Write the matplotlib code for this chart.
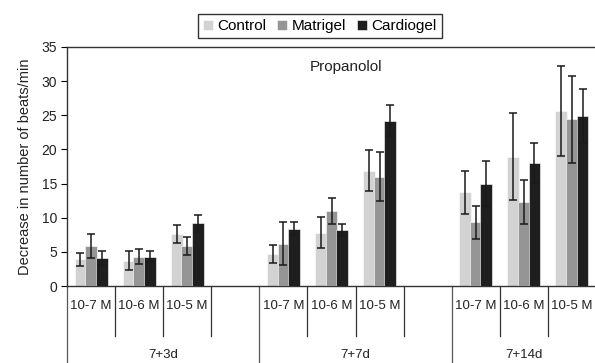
import numpy as np
import matplotlib.pyplot as plt
from matplotlib.transforms import blended_transform_factory

plt.rcParams['font.family'] = ['Liberation Sans', 'DejaVu Sans']

groups = ["7+3d", "7+7d", "7+14d"]
doses = ["10-7 M", "10-6 M", "10-5 M"]
series = ["Control", "Matrigel", "Cardiogel"]
colors = ["#d2d2d2", "#959595", "#1e1e1e"]

control = [3.9, 3.7, 7.6, 4.65, 7.8, 16.9, 13.75, 18.95, 25.6]
control_err = [0.95, 1.4, 1.3, 1.3, 2.3, 2.95, 3.15, 6.35, 6.55]
matrigel = [5.85, 4.3, 5.85, 6.2, 11.0, 16.0, 9.3, 12.3, 24.4]
matrigel_err = [1.7, 1.1, 1.3, 3.1, 1.9, 3.6, 2.35, 3.25, 6.4]
cardiogel = [4.1, 4.3, 9.2, 8.4, 8.2, 24.2, 15.0, 18.05, 24.9]
cardiogel_err = [1.0, 0.8, 1.25, 1.0, 0.9, 2.3, 3.3, 2.9, 4.0]

values = [control, matrigel, cardiogel]
errors = [control_err, matrigel_err, cardiogel_err]

# slot centres: 3 doses per group, one empty slot between groups
slots = np.array([g * 4 + d + 0.5 for g in range(len(groups)) for d in range(len(doses))])

fig = plt.figure(figsize=(5.95, 3.63), dpi=100)
ax = fig.add_axes([67 / 595, 77 / 363, 529 / 595, 239 / 363])

step = 0.22
width = 0.245
for i, (vals, errs) in enumerate(zip(values, errors)):
    x = slots + (i - 1) * step
    ax.bar(x, vals, width=width, color=colors[i], edgecolor='white', linewidth=0.4,
           label=series[i], zorder=2 + i)
    ax.errorbar(x, vals, yerr=errs, fmt='none', ecolor='#1a1a1a', elinewidth=1.1,
                capsize=3, capthick=1.1, zorder=2 + i)

ax.set_xlim(0, 11)
ax.set_ylim(0, 35)
ax.set_yticks(np.arange(0, 36, 5))
ax.tick_params(axis='y', direction='out', length=4, labelsize=10, pad=3, labelcolor='#222222')
ax.set_xticks([])
ax.set_ylabel("Decrease in number of beats/min", fontsize=10.5, labelpad=7, color='#222222')
for s in ['left', 'top', 'bottom']:
    ax.spines[s].set_linewidth(1.0)
    ax.spines[s].set_color('#333333')
ax.spines['right'].set_visible(False)

ax.text(5.05, 32, "Propanolol", fontsize=11, va='center', ha='left', color='#222222')

trans = blended_transform_factory(ax.transData, ax.transAxes)
for x, lab in zip(slots, doses * len(groups)):
    ax.text(x, -0.085, lab, transform=trans, ha='center', va='center', fontsize=9.5,
            color='#222222')

# short dividers between doses, long dividers between groups
for b in [1, 2, 3, 5, 6, 7, 9, 10]:
    ax.plot([b, b], [0, -0.21], transform=trans, color='#333333', lw=0.9, clip_on=False)
for b in [0, 4, 8]:
    ax.plot([b, b], [0, -0.33], transform=trans, color='#555555', lw=0.9, clip_on=False)

for g, lab in enumerate(groups):
    centre = g * 4 + (2 if g < 2 else 1.5)
    ax.text(centre, -0.29, lab, transform=trans, ha='center', va='center', fontsize=9.5,
            color='#222222')

fig.legend(loc='center', bbox_to_anchor=(320 / 595, 1 - 26 / 363), ncol=3, fontsize=11,
           frameon=True, fancybox=False, edgecolor='black', handlelength=0.65,
           handleheight=0.65, handletextpad=0.3, columnspacing=0.7, borderpad=0.35)

fig.savefig("out.png", dpi=100)
